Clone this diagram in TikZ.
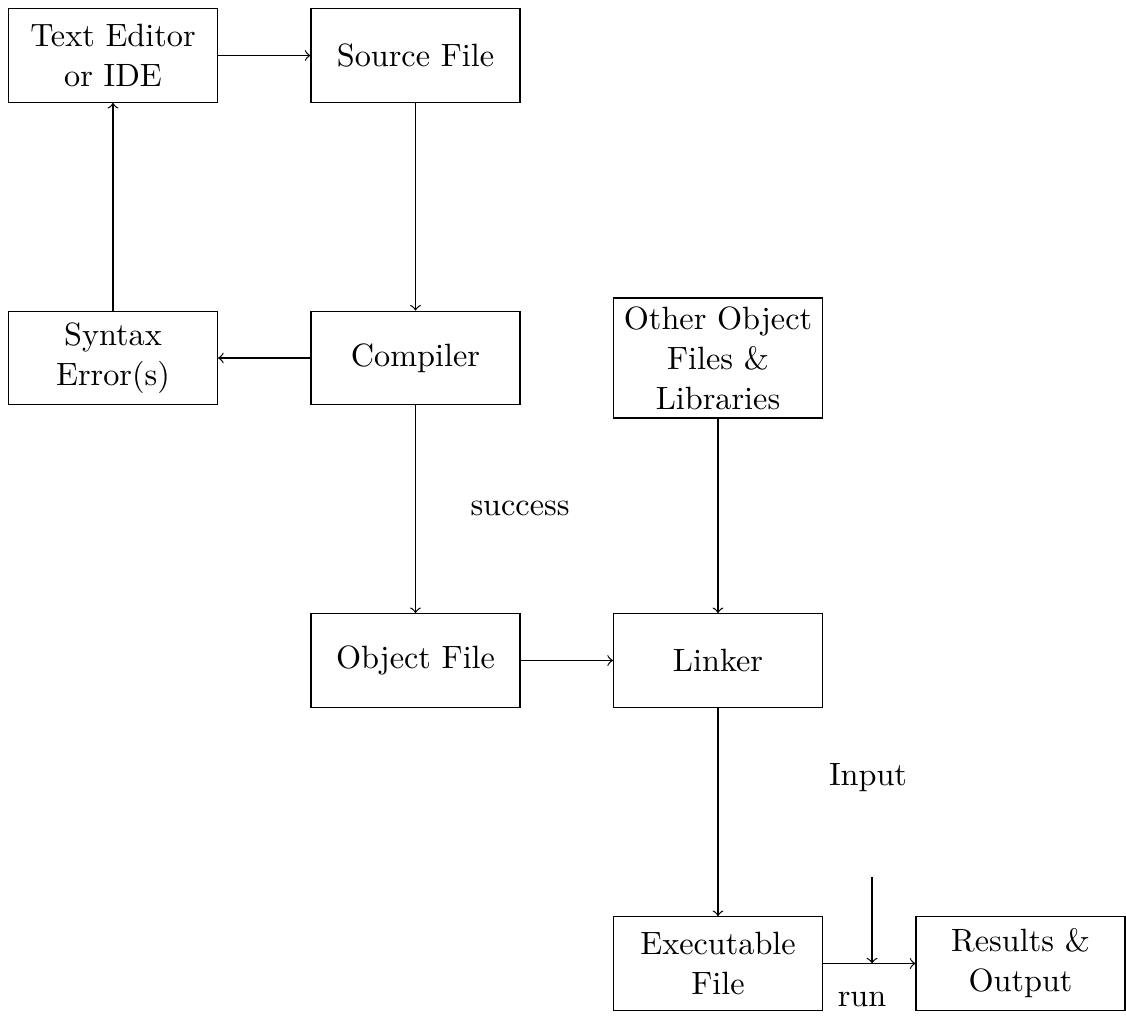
\documentclass[tikz,border=0pt]{standalone}
\begin{document}
\begin{tikzpicture}[x=0.01144cm,y=-0.01144cm,
  every node/.style={font=\fontsize{10.5}{13}\selectfont},
  blk/.style={draw, align=center, minimum width=2.39cm, minimum height=1.07cm, inner sep=2.8pt},
  lbl/.style={inner sep=0pt},
  >=to]
\useasboundingbox (0,0) rectangle (1126,1023);
\node[blk] (ed) at (113,55.5) {Text Editor\\or IDE};
\node[blk] (src) at (415.5,55.5) {Source File};
\node[blk] (err) at (113,358) {Syntax\\Error(s)};
\node[blk] (cmp) at (415.5,358) {Compiler};
\node[blk] (oth) at (718,358) {Other Object\\Files \&\\Libraries};
\node[blk] (obj) at (415.5,660.5) {Object File};
\node[blk] (lnk) at (718,660.5) {Linker};
\node[blk] (exe) at (718,963.5) {Executable\\File};
\node[blk] (res) at (1020.5,963.5) {Results \&\\Output};
\node[lbl] (succ) at (520,508) {success};
\node[lbl] (inp) at (868,778) {Input};
\node[lbl] (run) at (862,1000) {run};
\coordinate (itop) at (872,877);
\draw[->] (ed) -- (src);
\draw[->] (src) -- (cmp);
\draw[->] (cmp) -- (err);
\draw[->] (err) -- (ed);
\draw[->] (cmp) -- (obj);
\draw[->] (obj) -- (lnk);
\draw[->] (oth) -- (lnk);
\draw[->] (lnk) -- (exe);
\draw[->] (exe) -- (res);
\draw[->] (itop) -- (itop |- exe.east);
\end{tikzpicture}
\end{document}
